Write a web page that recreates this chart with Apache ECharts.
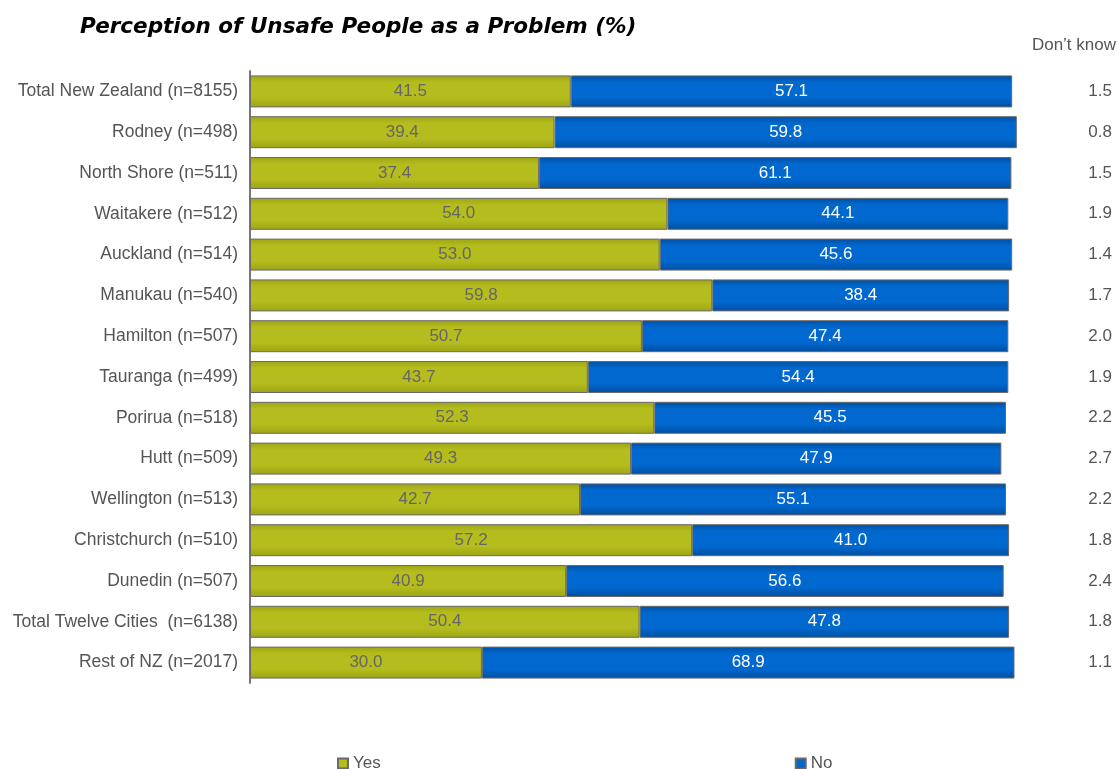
<!DOCTYPE html>
<html>
<head>
<meta charset="utf-8">
<title>Perception of Unsafe People as a Problem</title>
<script src="https://cdn.jsdelivr.net/npm/echarts@6/dist/echarts.min.js"></script>
<style>
  html, body { margin: 0; padding: 0; background: #ffffff; }
  #chart { width: 1119px; height: 769px; }
</style>
</head>
<body>
<div id="chart"></div>
<script>
// Survey areas, top to bottom
const areas = [
  'Total New Zealand (n=8155)',
  'Rodney (n=498)',
  'North Shore (n=511)',
  'Waitakere (n=512)',
  'Auckland (n=514)',
  'Manukau (n=540)',
  'Hamilton (n=507)',
  'Tauranga (n=499)',
  'Porirua (n=518)',
  'Hutt (n=509)',
  'Wellington (n=513)',
  'Christchurch (n=510)',
  'Dunedin (n=507)',
  'Total Twelve Cities  (n=6138)',
  'Rest of NZ (n=2017)'
];

// Percentages answering each way
const yesValues = [41.5, 39.4, 37.4, 54.0, 53.0, 59.8, 50.7, 43.7, 52.3, 49.3, 42.7, 57.2, 40.9, 50.4, 30.0];
const noValues  = [57.1, 59.8, 61.1, 44.1, 45.6, 38.4, 47.4, 54.4, 45.5, 47.9, 55.1, 41.0, 56.6, 47.8, 68.9];
const dontKnowValues = [1.5, 0.8, 1.5, 1.9, 1.4, 1.7, 2.0, 1.9, 2.2, 2.7, 2.2, 1.8, 2.4, 1.8, 1.1];

const barFill = (edge, mid) => new echarts.graphic.LinearGradient(0, 0, 0, 1, [
  { offset: 0, color: edge },
  { offset: 0.22, color: mid },
  { offset: 0.7, color: mid },
  { offset: 1, color: edge }
]);

const chart = echarts.init(document.getElementById('chart'), null, { renderer: 'canvas' });

chart.setOption({
  animation: false,
  backgroundColor: '#ffffff',
  title: [
    {
      text: 'Perception of Unsafe People as a Problem (%)',
      left: 75,
      top: 11,
      textStyle: {
        fontFamily: 'DejaVu Sans',
        fontStyle: 'italic',
        fontWeight: 'bold',
        fontSize: 21.5,
        color: '#000000'
      }
    },
    {
      text: "Don\u2019t know",
      right: -2,
      top: 32,
      textStyle: {
        fontFamily: 'Liberation Sans',
        fontWeight: 'normal',
        fontSize: 17,
        color: '#555555'
      }
    }
  ],
  legend: {
    data: ['Yes', 'No'],
    left: 332,
    top: 750,
    itemWidth: 10,
    itemHeight: 10,
    itemGap: 414,
    icon: 'rect',
    textStyle: { fontFamily: 'Liberation Sans', fontSize: 17, color: '#555555' }
  },
  grid: {
    left: 250,
    right: 96,
    top: 71,
    bottom: 86
  },
  xAxis: {
    type: 'value',
    min: 0,
    max: 100,
    show: false
  },
  yAxis: [
    {
      type: 'category',
      data: areas,
      inverse: true,
      axisLine: { show: true, lineStyle: { color: '#777777', width: 2 } },
      axisTick: { show: false },
      axisLabel: {
        margin: 12,
        fontFamily: 'Liberation Sans',
        fontSize: 17.5,
        color: '#555555'
      }
    },
    {
      type: 'category',
      data: dontKnowValues.map(v => v.toFixed(1)),
      inverse: true,
      position: 'right',
      axisLine: { show: false },
      axisTick: { show: false },
      axisLabel: {
        margin: 89,
        align: 'right',
        fontFamily: 'Liberation Sans',
        fontSize: 17,
        color: '#555555'
      }
    }
  ],
  series: [
    {
      name: 'Yes',
      type: 'bar',
      stack: 'answer',
      barWidth: 32,
      data: yesValues,
      color: '#b2ba1c',
      itemStyle: {
        color: barFill('#9da414', '#b4bc1e'),
        borderColor: '#6a6a6a',
        borderWidth: 1
      },
      label: {
        show: true,
        position: 'inside',
        formatter: p => p.value.toFixed(1),
        fontFamily: 'Liberation Sans',
        fontSize: 17,
        color: '#666666'
      }
    },
    {
      name: 'No',
      type: 'bar',
      stack: 'answer',
      barWidth: 32,
      data: noValues,
      color: '#0066cc',
      itemStyle: {
        color: barFill('#004f9f', '#0068cf'),
        borderColor: '#6a6a6a',
        borderWidth: 1
      },
      label: {
        show: true,
        position: 'inside',
        formatter: p => p.value.toFixed(1),
        fontFamily: 'Liberation Sans',
        fontSize: 17,
        color: '#ffffff'
      }
    }
  ]
});
</script>
</body>
</html>
